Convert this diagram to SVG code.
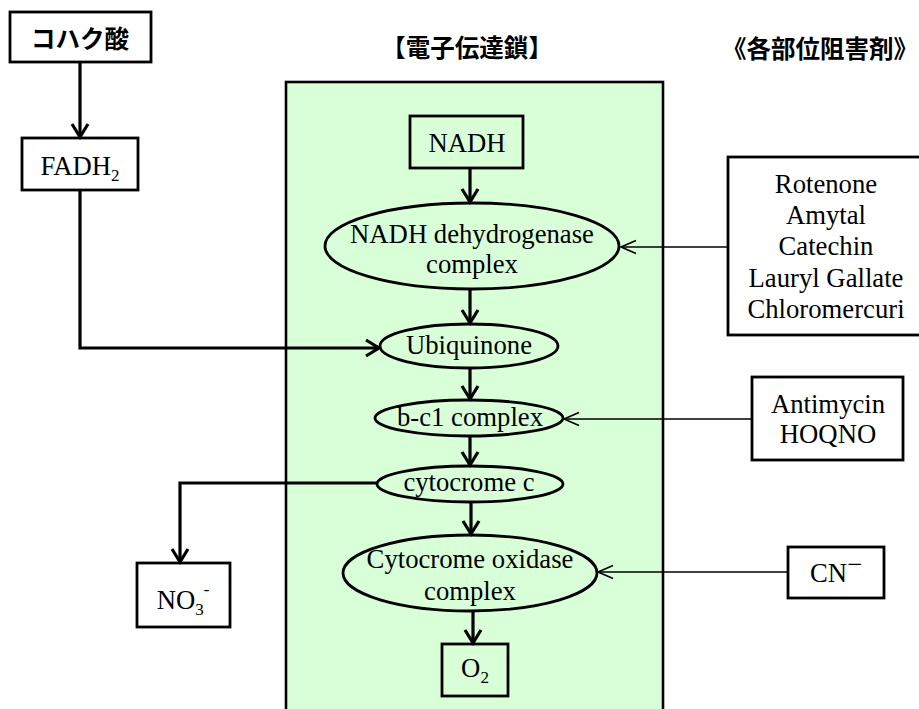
<svg xmlns="http://www.w3.org/2000/svg" width="919" height="709" viewBox="0 0 919 709">
<style>
.t{font-family:"Liberation Serif","Times New Roman",serif;font-size:26.7px;fill:#000;text-anchor:middle}
.sub{font-size:17px}
.jp{font-family:"Noto Sans CJK JP","Noto Sans CJK SC",sans-serif;font-weight:bold;font-size:24.5px;fill:#000;text-anchor:middle}
.box{fill:#fff;stroke:#000;stroke-width:2.8}
.gbox{fill:none;stroke:#000;stroke-width:2.8}
.ell{fill:none;stroke:#000;stroke-width:2.8}
.thick{fill:none;stroke:#000;stroke-width:3.2;marker-end:url(#ah)}
.thin{fill:none;stroke:#000;stroke-width:1.6;marker-end:url(#ahs)}
</style>
<defs>
<marker id="ah" markerUnits="userSpaceOnUse" markerWidth="30" markerHeight="30" refX="0" refY="0" orient="auto" overflow="visible">
<path d="M-13,-8 L0,0 L-13,8" fill="none" stroke="#000" stroke-width="3.2"/>
</marker>
<marker id="ahs" markerUnits="userSpaceOnUse" markerWidth="30" markerHeight="30" refX="0" refY="0" orient="auto" overflow="visible">
<path d="M-15,-6.5 L0,0 L-15,6.5" fill="none" stroke="#000" stroke-width="1.6"/>
</marker>
</defs>
<rect width="919" height="709" fill="#fff"/>

<g id="chain-area">
<rect x="286" y="82" width="377" height="640" fill="#d9ffd9" stroke="#000" stroke-width="2.6"/>
</g>

<g id="title-chain"><text class="jp" x="467" y="57">【電子伝達鎖】</text></g>
<g id="title-inhibitors"><text class="jp" x="820" y="58">《各部位阻害剤》</text></g>

<g id="succinate">
<rect class="box" x="10" y="12" width="141" height="50"/>
<text class="jp" x="80" y="48">コハク酸</text>
</g>
<g id="fadh2">
<rect class="box" x="22" y="138" width="116" height="52"/>
<text class="t" x="80" y="175">FADH<tspan class="sub" dy="6">2</tspan></text>
</g>
<g id="nadh">
<rect class="gbox" x="410" y="116" width="113" height="52"/>
<text class="t" x="467" y="152">NADH</text>
</g>
<g id="nadh-dh">
<ellipse class="ell" cx="472" cy="246" rx="147" ry="43"/>
<text class="t" x="472" y="243">NADH dehydrogenase</text>
<text class="t" x="472" y="273">complex</text>
</g>
<g id="ubiquinone">
<ellipse class="ell" cx="469" cy="346" rx="89" ry="22"/>
<text class="t" x="469" y="354">Ubiquinone</text>
</g>
<g id="bc1">
<ellipse class="ell" cx="469" cy="418" rx="94" ry="18"/>
<text class="t" x="470" y="426">b-c1 complex</text>
</g>
<g id="cytc">
<ellipse class="ell" cx="470" cy="484" rx="93" ry="18"/>
<text class="t" x="469" y="491">cytocrome c</text>
</g>
<g id="oxidase">
<ellipse class="ell" cx="470" cy="573" rx="127" ry="38"/>
<text class="t" x="470" y="568">Cytocrome oxidase</text>
<text class="t" x="470" y="600">complex</text>
</g>
<g id="o2">
<rect class="gbox" x="442" y="644" width="66" height="52"/>
<text class="t" x="475" y="677">O<tspan class="sub" dy="6">2</tspan></text>
</g>
<g id="no3">
<rect class="box" x="137" y="563" width="93" height="64"/>
<text class="t" x="183" y="609">NO<tspan class="sub" dy="6">3</tspan><tspan class="sub" dy="-20">-</tspan></text>
</g>
<g id="inhib1">
<rect class="box" x="728" y="157" width="196" height="178"/>
<text class="t" x="826" y="193">Rotenone</text>
<text class="t" x="826" y="224">Amytal</text>
<text class="t" x="826" y="255">Catechin</text>
<text class="t" x="826" y="287">Lauryl Gallate</text>
<text class="t" x="826" y="318">Chloromercuri</text>
</g>
<g id="inhib2">
<rect class="box" x="752" y="377" width="151" height="83"/>
<text class="t" x="828" y="413">Antimycin</text>
<text class="t" x="828" y="443">HOQNO</text>
</g>
<g id="inhib3">
<rect class="box" x="788" y="547" width="96" height="51"/>
<text class="t" x="836" y="582">CN<tspan dy="-9">−</tspan></text>
</g>

<g id="connectors">
<line class="thick" x1="80" y1="62" x2="80" y2="137"/>
<polyline class="thick" points="80,190 80,348 379,348"/>
<line class="thick" x1="470" y1="168" x2="470" y2="202"/>
<line class="thick" x1="470" y1="289" x2="470" y2="323"/>
<line class="thick" x1="470" y1="368" x2="470" y2="399"/>
<line class="thick" x1="470" y1="436" x2="470" y2="465"/>
<line class="thick" x1="471" y1="502" x2="471" y2="534"/>
<line class="thick" x1="473" y1="611" x2="473" y2="643"/>
<polyline class="thick" points="377,483 180,483 180,562"/>
<line class="thin" x1="728" y1="247" x2="621" y2="247"/>
<line class="thin" x1="752" y1="419" x2="564" y2="419"/>
<line class="thin" x1="788" y1="572" x2="598" y2="572"/>
</g>
</svg>
